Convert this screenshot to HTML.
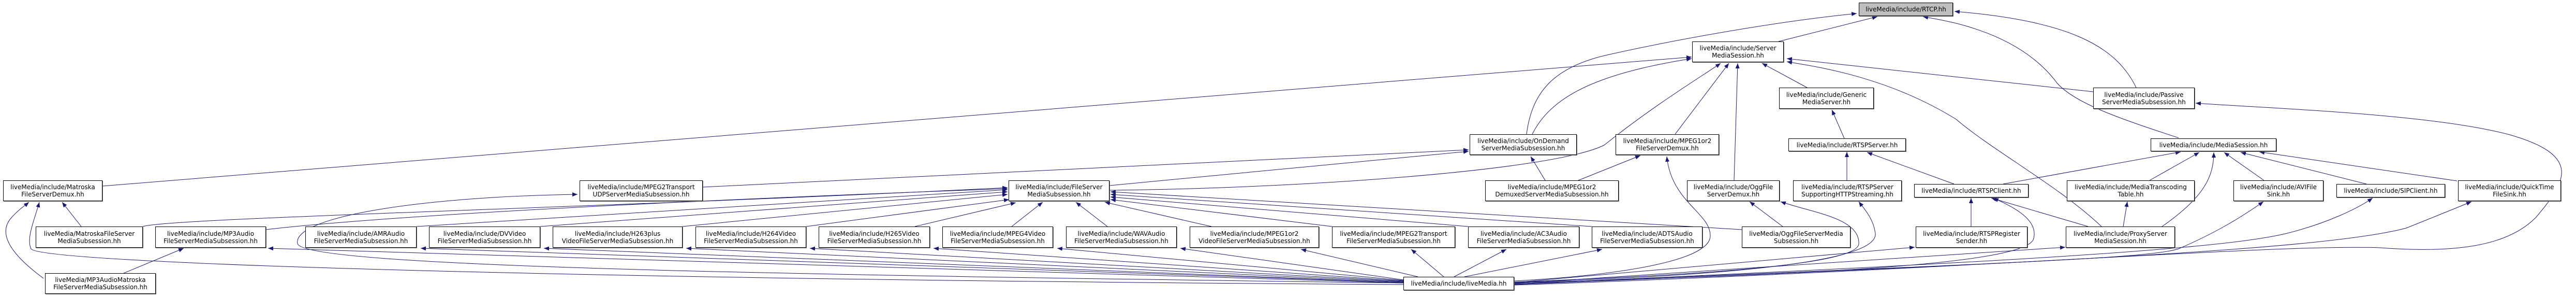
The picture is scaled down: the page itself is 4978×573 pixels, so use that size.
<!DOCTYPE html>
<html><head><meta charset="utf-8">
<style>
html,body{margin:0;padding:0;background:#fff;}
body{width:4978px;height:573px;position:relative;overflow:hidden;font-family:"DejaVu Sans","Liberation Sans",sans-serif;}
.n{position:absolute;box-sizing:border-box;border:1px solid #000;background:#fff;box-shadow:1px 1px 0 #777;display:flex;flex-direction:column;align-items:center;justify-content:center;font-size:12px;line-height:14px;color:#000;white-space:nowrap;text-align:center;}
.g{background:#bfbfbf;}
svg{position:absolute;left:0;top:0;}
</style></head><body>
<svg width="4978" height="573" viewBox="0 0 4978 573">
<defs><marker id="a" markerUnits="userSpaceOnUse" markerWidth="10" markerHeight="8" refX="10" refY="4" orient="auto"><path d="M0,0 L10,4 L0,8 z" fill="#191970"/></marker></defs>
<g fill="none" stroke="#191970" stroke-width="1" marker-end="url(#a)">
<!-- to RTCP -->
<path d="M3437 80 L3628 32"/>
<path d="M2950 259 C2960 180 3000 130 3106 106 C3200 85 3400 45 3588 26"/>
<path d="M4210 266 C4100 230 4010 200 3975 160 C3900 60 3760 40 3716 32"/>
<path d="M4128 169 C4090 90 4000 40 3777 22"/>
<!-- to ServerMediaSession -->
<path d="M198 359 L3269 110"/>
<path d="M2961 259 C3000 180 3100 140 3269 113"/>
<path d="M2144 367 C2500 364 3000 330 3100 280 C3200 200 3300 140 3325 122"/>
<path d="M3237 259 L3341 122"/>
<path d="M3351 348 L3358 122"/>
<path d="M3492 169 L3405 122"/>
<path d="M4045 177 L3453 113"/>
<path d="M4061 437 C3980 360 3850 290 3780 230 C3650 150 3520 130 3453 119"/>
<!-- to OnDemand -->
<path d="M1358 361 L2838 289"/>
<path d="M2144 358 L2838 292"/>
<path d="M2986 348 L2958 302"/>
<!-- MPEG1or2 demux -->
<path d="M3050 348 L3170 300"/>
<path d="M2926 542 C3150 530 3305 500 3305 455 C3305 410 3230 390 3221 302"/>
<!-- Ogg -->
<path d="M3445 437 L3381 389"/>
<path d="M2926 544 C3300 530 3592 510 3592 470 C3594 420 3500 410 3441 389"/>
<!-- RTSP server chain -->
<path d="M3564 267 L3540 212"/>
<path d="M3569 348 L3569 293"/>
<path d="M3776 355 L3608 294"/>
<path d="M2926 545 C3400 530 3630 500 3624 450 C3620 420 3600 400 3592 389"/>
<!-- MediaSession -->
<path d="M3871 355 L4214 293"/>
<path d="M4154 348 L4250 294"/>
<path d="M4178 437 C4260 380 4278 340 4278 294"/>
<path d="M4375 348 L4298 294"/>
<path d="M4573 355 L4330 294"/>
<path d="M4748 349 L4366 293"/>
<!-- RTSPClient -->
<path d="M3809 437 L3809 382"/>
<path d="M4035 437 L3848 382"/>
<path d="M2926 546 C3500 530 3920 510 3930 460 C3940 420 3880 395 3852 382"/>
<path d="M4103 437 L4111 389"/>
<path d="M2926 545 L3700 477"/>
<path d="M2926 547 L3991 477"/>
<path d="M2926 548 C3800 510 4150 500 4210 480 C4280 450 4330 420 4374 389"/>
<path d="M2926 548 C3900 505 4300 480 4420 450 C4500 430 4560 400 4585 382"/>
<path d="M2926 549 C4000 505 4500 480 4650 440 C4700 420 4750 400 4776 389"/>
<path d="M2926 550 C3800 520 4400 470 4600 478 C4760 490 4850 470 4900 420 C4960 350 4990 300 4850 260 C4700 220 4400 210 4243 199"/>
<!-- Matroska -->
<path d="M2712 549 C1200 540 80 510 60 480 C50 460 68 420 76 390"/>
<path d="M84 537 C20 490 -5 450 22 420 C35 405 50 395 56 390"/>
<path d="M157 437 L120 390"/>
<path d="M239 527 L355 479"/>
<!-- MPEG2 UDP -->
<path d="M2712 546 C1500 530 585 515 575 470 C565 420 800 380 1116 375"/>
<!-- to FileServer -->
<path d="M276 437 C330 420 1200 400 1947 362"/>
<path d="M514 443 C800 410 1500 380 1947 364"/>
<path d="M805 437 L1947 366"/>
<path d="M1044 437 L1947 370"/>
<path d="M1319 437 L1947 375"/>
<path d="M1558 437 L1950 385"/>
<path d="M1768 437 L1963 391"/>
<path d="M1955 437 L2015 390"/>
<path d="M2140 437 L2079 390"/>
<path d="M2341 437 L2135 390"/>
<path d="M2574 437 L2146 385"/>
<path d="M2837 437 L2146 380"/>
<path d="M3076 437 L2146 375"/>
<path d="M3366 443 L2146 370"/>
<!-- liveMedia to bottom row -->
<path d="M2712 546 L518 479"/>
<path d="M2712 545 L813 479"/>
<path d="M2712 545 L1051 479"/>
<path d="M2712 544 L1326 479"/>
<path d="M2712 543 L1565 479"/>
<path d="M2712 542 L1804 479"/>
<path d="M2712 541 L2043 479"/>
<path d="M2712 540 L2281 479"/>
<path d="M2740 534 L2514 481"/>
<path d="M2790 534 L2727 481"/>
<path d="M2810 534 L2911 481"/>
<path d="M2830 534 L3096 481"/>
</g>
</svg>

<div class="n g" style="left:3592px;top:5px;width:182px;height:26px">liveMedia/include/RTCP.hh</div>
<div class="n" style="left:3270px;top:80px;width:177px;height:40px"><span>liveMedia/include/Server</span><span>MediaSession.hh</span></div>
<div class="n" style="left:3438px;top:169px;width:183px;height:41px"><span>liveMedia/include/Generic</span><span>MediaServer.hh</span></div>
<div class="n" style="left:4045px;top:169px;width:196px;height:41px"><span>liveMedia/include/Passive</span><span>ServerMediaSubsession.hh</span></div>
<div class="n" style="left:2840px;top:259px;width:207px;height:40px"><span>liveMedia/include/OnDemand</span><span>ServerMediaSubsession.hh</span></div>
<div class="n" style="left:3122px;top:259px;width:200px;height:40px"><span>liveMedia/include/MPEG1or2</span><span>FileServerDemux.hh</span></div>
<div class="n" style="left:3456px;top:267px;width:227px;height:25px">liveMedia/include/RTSPServer.hh</div>
<div class="n" style="left:4156px;top:267px;width:243px;height:25px">liveMedia/include/MediaSession.hh</div>
<div class="n" style="left:6px;top:348px;width:192px;height:40px"><span>liveMedia/include/Matroska</span><span>FileServerDemux.hh</span></div>
<div class="n" style="left:1120px;top:348px;width:238px;height:40px"><span>liveMedia/include/MPEG2Transport</span><span>UDPServerMediaSubsession.hh</span></div>
<div class="n" style="left:1949px;top:348px;width:195px;height:40px"><span>liveMedia/include/FileServer</span><span>MediaSubsession.hh</span></div>
<div class="n" style="left:2870px;top:348px;width:258px;height:40px"><span>liveMedia/include/MPEG1or2</span><span>DemuxedServerMediaSubsession.hh</span></div>
<div class="n" style="left:3260px;top:348px;width:179px;height:40px"><span>liveMedia/include/OggFile</span><span>ServerDemux.hh</span></div>
<div class="n" style="left:3465px;top:348px;width:210px;height:40px"><span>liveMedia/include/RTSPServer</span><span>SupportingHTTPStreaming.hh</span></div>
<div class="n" style="left:3699px;top:355px;width:221px;height:26px">liveMedia/include/RTSPClient.hh</div>
<div class="n" style="left:3994px;top:348px;width:247px;height:40px"><span>liveMedia/include/MediaTranscoding</span><span>Table.hh</span></div>
<div class="n" style="left:4316px;top:348px;width:174px;height:40px"><span>liveMedia/include/AVIFile</span><span>Sink.hh</span></div>
<div class="n" style="left:4515px;top:355px;width:210px;height:26px">liveMedia/include/SIPClient.hh</div>
<div class="n" style="left:4750px;top:348px;width:199px;height:40px"><span>liveMedia/include/QuickTime</span><span>FileSink.hh</span></div>

<div class="n" style="left:69px;top:437px;width:207px;height:41px"><span>liveMedia/MatroskaFileServer</span><span>MediaSubsession.hh</span></div>
<div class="n" style="left:300px;top:437px;width:214px;height:41px"><span>liveMedia/include/MP3Audio</span><span>FileServerMediaSubsession.hh</span></div>
<div class="n" style="left:590px;top:437px;width:215px;height:41px"><span>liveMedia/include/AMRAudio</span><span>FileServerMediaSubsession.hh</span></div>
<div class="n" style="left:829px;top:437px;width:215px;height:41px"><span>liveMedia/include/DVVideo</span><span>FileServerMediaSubsession.hh</span></div>
<div class="n" style="left:1068px;top:437px;width:251px;height:41px"><span>liveMedia/include/H263plus</span><span>VideoFileServerMediaSubsession.hh</span></div>
<div class="n" style="left:1344px;top:437px;width:214px;height:41px"><span>liveMedia/include/H264Video</span><span>FileServerMediaSubsession.hh</span></div>
<div class="n" style="left:1582px;top:437px;width:215px;height:41px"><span>liveMedia/include/H265Video</span><span>FileServerMediaSubsession.hh</span></div>
<div class="n" style="left:1821px;top:437px;width:214px;height:41px"><span>liveMedia/include/MPEG4Video</span><span>FileServerMediaSubsession.hh</span></div>
<div class="n" style="left:2060px;top:437px;width:214px;height:41px"><span>liveMedia/include/WAVAudio</span><span>FileServerMediaSubsession.hh</span></div>
<div class="n" style="left:2299px;top:437px;width:250px;height:41px"><span>liveMedia/include/MPEG1or2</span><span>VideoFileServerMediaSubsession.hh</span></div>
<div class="n" style="left:2574px;top:437px;width:238px;height:41px"><span>liveMedia/include/MPEG2Transport</span><span>FileServerMediaSubsession.hh</span></div>
<div class="n" style="left:2837px;top:437px;width:215px;height:41px"><span>liveMedia/include/AC3Audio</span><span>FileServerMediaSubsession.hh</span></div>
<div class="n" style="left:3076px;top:437px;width:214px;height:41px"><span>liveMedia/include/ADTSAudio</span><span>FileServerMediaSubsession.hh</span></div>
<div class="n" style="left:3366px;top:437px;width:210px;height:41px"><span>liveMedia/OggFileServerMedia</span><span>Subsession.hh</span></div>
<div class="n" style="left:3702px;top:437px;width:216px;height:41px"><span>liveMedia/include/RTSPRegister</span><span>Sender.hh</span></div>
<div class="n" style="left:3992px;top:437px;width:211px;height:41px"><span>liveMedia/include/ProxyServer</span><span>MediaSession.hh</span></div>
<div class="n" style="left:87px;top:527px;width:214px;height:40px"><span>liveMedia/MP3AudioMatroska</span><span>FileServerMediaSubsession.hh</span></div>
<div class="n" style="left:2712px;top:534px;width:214px;height:26px">liveMedia/include/liveMedia.hh</div>
</body></html>
